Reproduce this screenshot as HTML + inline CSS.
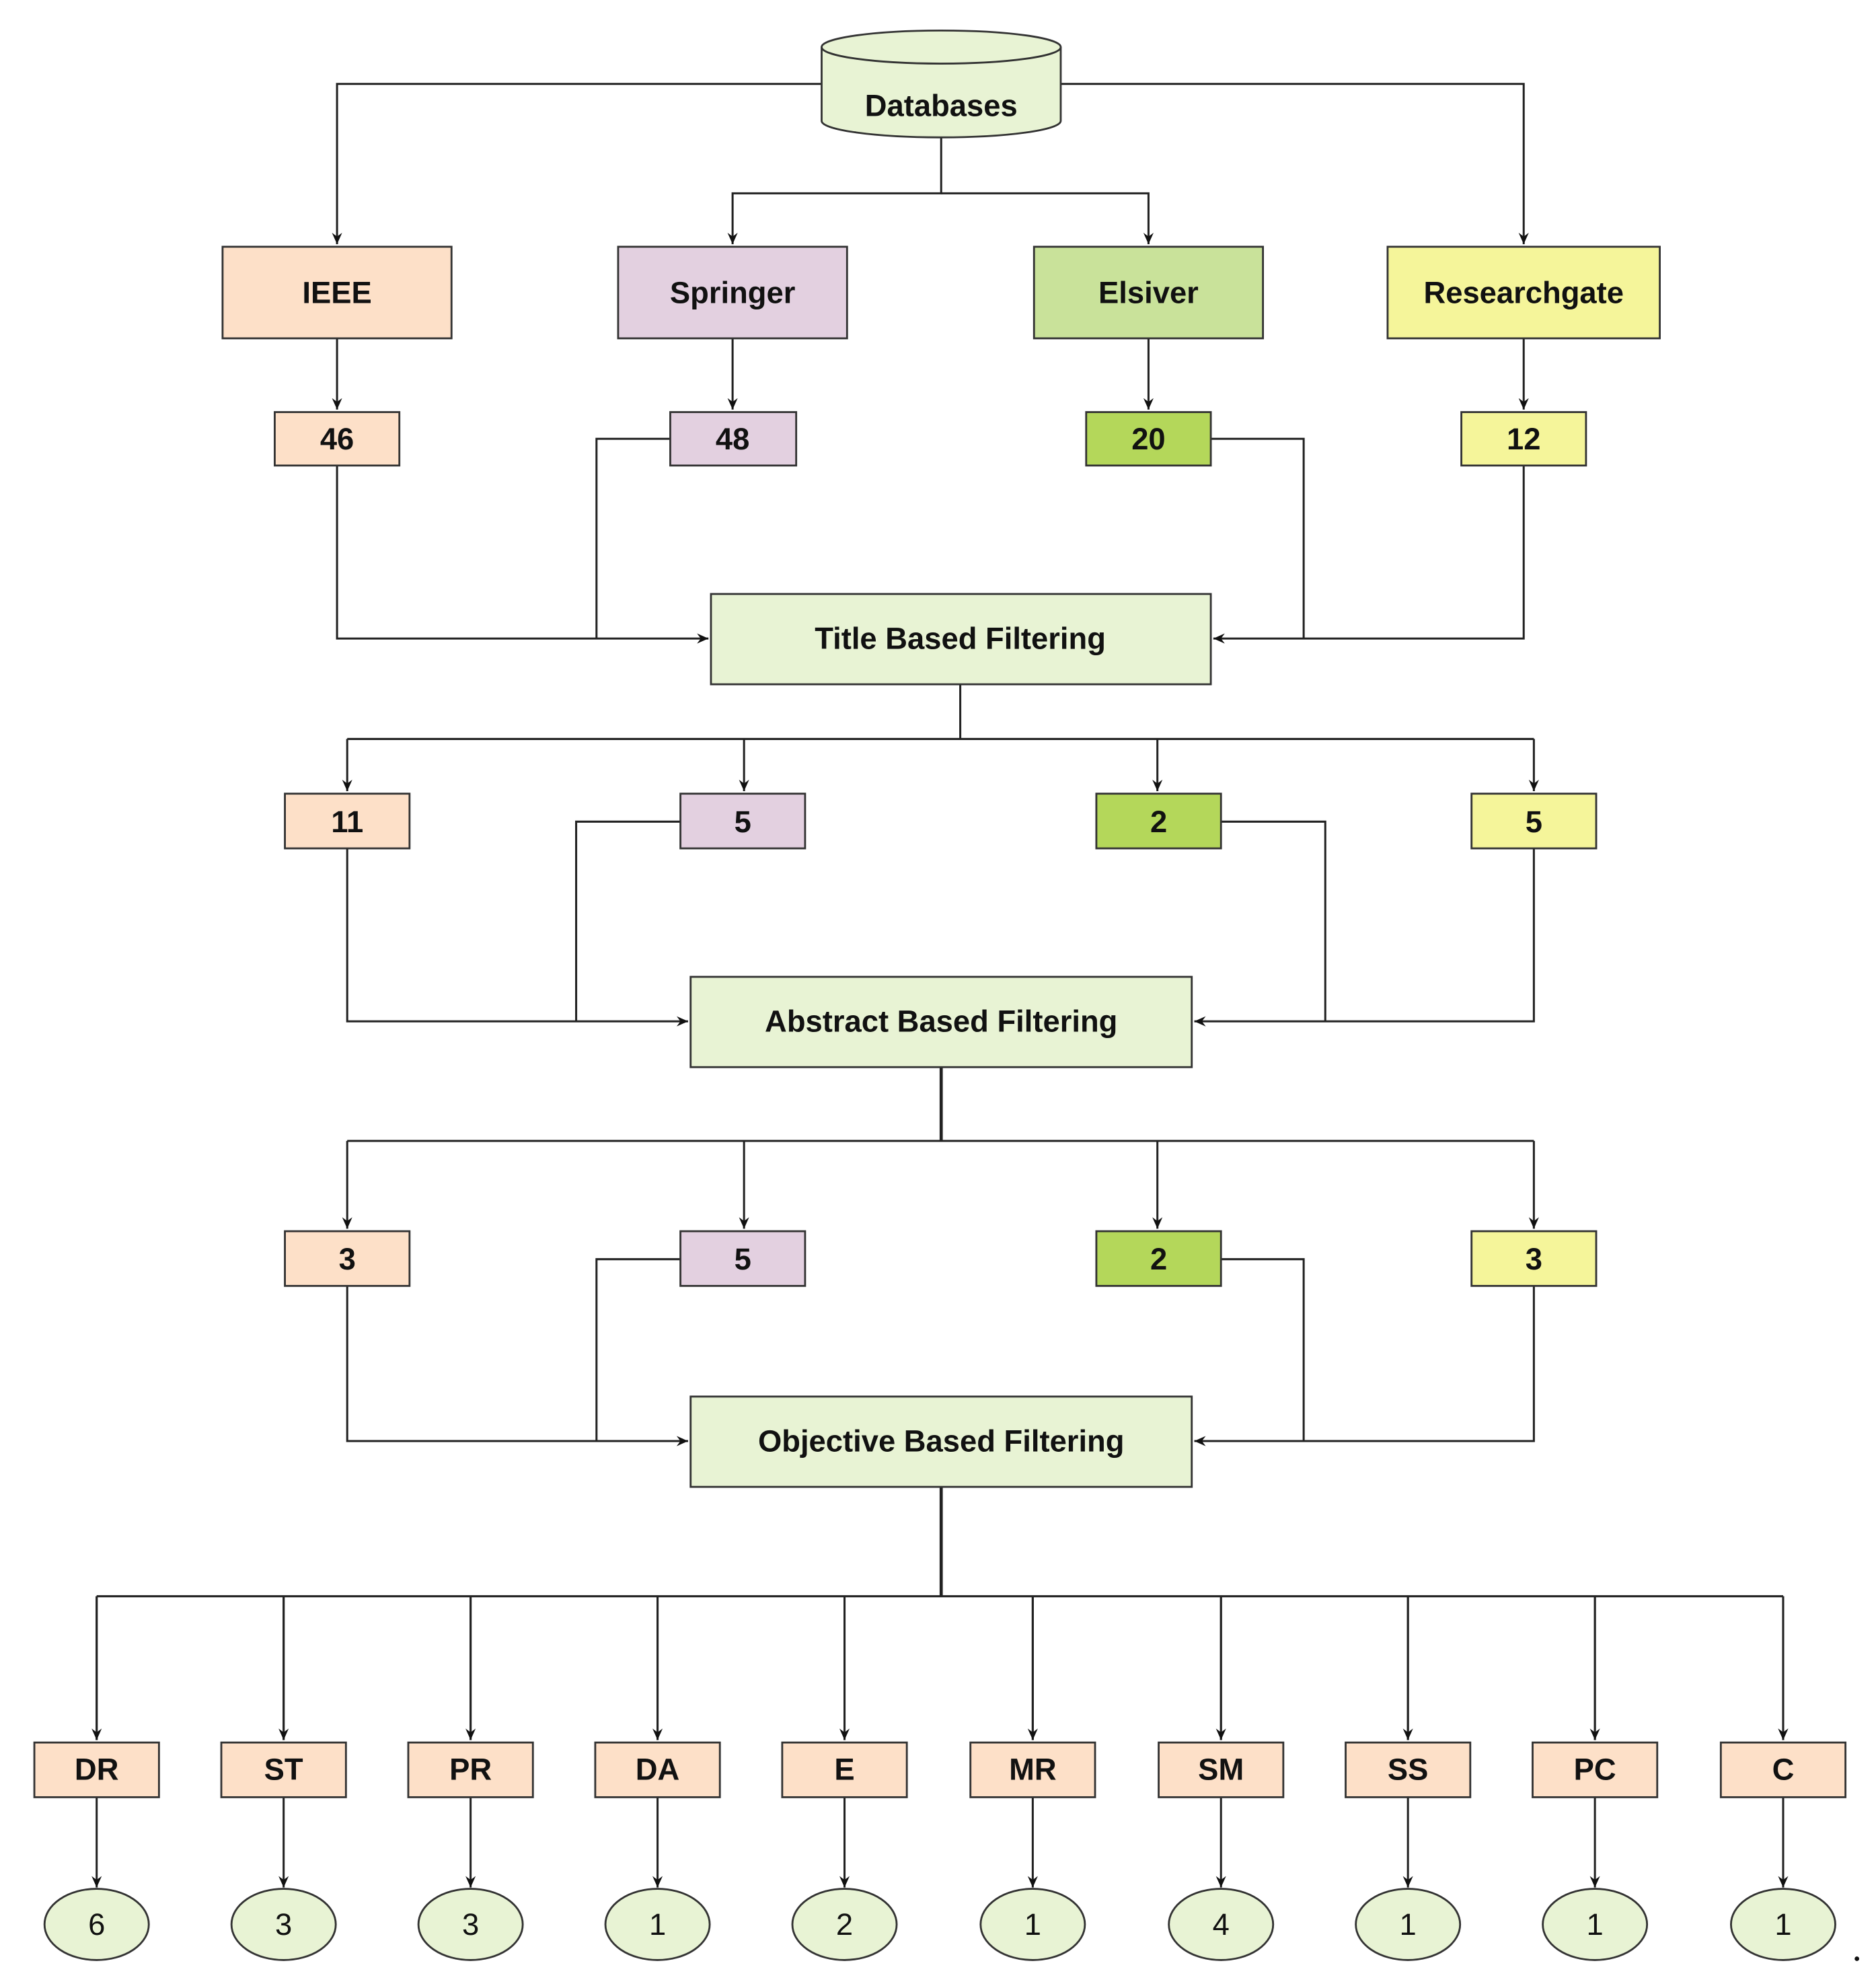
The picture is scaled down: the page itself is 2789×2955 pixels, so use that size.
<!DOCTYPE html>
<html><head><meta charset="utf-8"><style>html,body{margin:0;padding:0;background:#fff}svg{display:block}</style></head><body>
<svg width="2789" height="2955" viewBox="0 0 1475 1563" preserveAspectRatio="none" xmlns="http://www.w3.org/2000/svg">
<defs><marker id="a" markerWidth="10" markerHeight="10" refX="9" refY="5" orient="auto" markerUnits="userSpaceOnUse"><path d="M0,1 L9,5 L0,9 L3,5 Z" fill="#111"/></marker></defs>
<g fill="none" stroke="#222" stroke-width="1.6">
<path d="M646,66 H265 V192" marker-end="url(#a)"/>
<path d="M834,66 H1198 V192" marker-end="url(#a)"/>
<path d="M740,108 V152 H576 V192" marker-end="url(#a)"/>
<path d="M740,152 H903 V192" marker-end="url(#a)"/>
<path d="M265,266 V322" marker-end="url(#a)"/>
<path d="M576,266 V322" marker-end="url(#a)"/>
<path d="M903,266 V322" marker-end="url(#a)"/>
<path d="M1198,266 V322" marker-end="url(#a)"/>
<path d="M265,366 V502 H557" marker-end="url(#a)"/>
<path d="M527,345 H469 V502"/>
<path d="M952,345 H1025 V502"/>
<path d="M1198,366 V502 H954" marker-end="url(#a)"/>
<path d="M755,538 V581"/>
<path d="M273,581 H1206"/>
<path d="M273,581 V622" marker-end="url(#a)"/><path d="M585,581 V622" marker-end="url(#a)"/><path d="M910,581 V622" marker-end="url(#a)"/><path d="M1206,581 V622" marker-end="url(#a)"/>
<path d="M273,667 V803 H541" marker-end="url(#a)"/>
<path d="M535,646 H453 V803"/>
<path d="M960,646 H1042 V803"/>
<path d="M1206,667 V803 H939" marker-end="url(#a)"/>
<path d="M740,839 V897" stroke-width="2.5"/>
<path d="M273,897 H1206"/>
<path d="M273,897 V966" marker-end="url(#a)"/><path d="M585,897 V966" marker-end="url(#a)"/><path d="M910,897 V966" marker-end="url(#a)"/><path d="M1206,897 V966" marker-end="url(#a)"/>
<path d="M273,1011 V1133 H541" marker-end="url(#a)"/>
<path d="M535,990 H469 V1133"/>
<path d="M960,990 H1025 V1133"/>
<path d="M1206,1011 V1133 H939" marker-end="url(#a)"/>
<path d="M740,1169 V1255" stroke-width="2.5"/>
<path d="M76,1255 H1402"/>
<path d="M76,1255V1368M223,1255V1368M370,1255V1368M517,1255V1368M664,1255V1368M812,1255V1368M960,1255V1368M1107,1255V1368M1254,1255V1368M1402,1255V1368" marker-end="url(#a)"/>
</g>
<g fill="none" stroke="#222" stroke-width="1.6" marker-end="url(#a)">
<path d="M76,1255V1368"/><path d="M223,1255V1368"/><path d="M370,1255V1368"/><path d="M517,1255V1368"/><path d="M664,1255V1368"/><path d="M812,1255V1368"/><path d="M960,1255V1368"/><path d="M1107,1255V1368"/><path d="M1254,1255V1368"/><path d="M1402,1255V1368"/>
<path d="M76,1413V1484"/><path d="M223,1413V1484"/><path d="M370,1413V1484"/><path d="M517,1413V1484"/><path d="M664,1413V1484"/><path d="M812,1413V1484"/><path d="M960,1413V1484"/><path d="M1107,1413V1484"/><path d="M1254,1413V1484"/><path d="M1402,1413V1484"/>
</g>
<g stroke="#333" stroke-width="1.5">
<path d="M646,37 V95 A94,13 0 0 0 834,95 V37" fill="#e8f3d4"/>
<ellipse cx="740" cy="37" rx="94" ry="13" fill="#e8f3d4"/>
<rect x="175" y="194" width="180" height="72" fill="#fde0c8"/>
<rect x="486" y="194" width="180" height="72" fill="#e3d0e0"/>
<rect x="813" y="194" width="180" height="72" fill="#c9e29a"/>
<rect x="1091" y="194" width="214" height="72" fill="#f5f59a"/>
<rect x="216" y="324" width="98" height="42" fill="#fde0c8"/>
<rect x="527" y="324" width="99" height="42" fill="#e3d0e0"/>
<rect x="854" y="324" width="98" height="42" fill="#b4d75a"/>
<rect x="1149" y="324" width="98" height="42" fill="#f5f59a"/>
<rect x="559" y="467" width="393" height="71" fill="#e8f3d4"/>
<rect x="224" y="624" width="98" height="43" fill="#fde0c8"/>
<rect x="535" y="624" width="98" height="43" fill="#e3d0e0"/>
<rect x="862" y="624" width="98" height="43" fill="#b4d75a"/>
<rect x="1157" y="624" width="98" height="43" fill="#f5f59a"/>
<rect x="543" y="768" width="394" height="71" fill="#e8f3d4"/>
<rect x="224" y="968" width="98" height="43" fill="#fde0c8"/>
<rect x="535" y="968" width="98" height="43" fill="#e3d0e0"/>
<rect x="862" y="968" width="98" height="43" fill="#b4d75a"/>
<rect x="1157" y="968" width="98" height="43" fill="#f5f59a"/>
<rect x="543" y="1098" width="394" height="71" fill="#e8f3d4"/>
</g>
<g stroke="#333" stroke-width="1.5" fill="#fde0c8">
<rect x="27" y="1370" width="98" height="43"/><rect x="174" y="1370" width="98" height="43"/><rect x="321" y="1370" width="98" height="43"/><rect x="468" y="1370" width="98" height="43"/><rect x="615" y="1370" width="98" height="43"/><rect x="763" y="1370" width="98" height="43"/><rect x="911" y="1370" width="98" height="43"/><rect x="1058" y="1370" width="98" height="43"/><rect x="1205" y="1370" width="98" height="43"/><rect x="1353" y="1370" width="98" height="43"/>
</g>
<g stroke="#333" stroke-width="1.5" fill="#e8f3d4">
<ellipse cx="76" cy="1513" rx="41" ry="28"/><ellipse cx="223" cy="1513" rx="41" ry="28"/><ellipse cx="370" cy="1513" rx="41" ry="28"/><ellipse cx="517" cy="1513" rx="41" ry="28"/><ellipse cx="664" cy="1513" rx="41" ry="28"/><ellipse cx="812" cy="1513" rx="41" ry="28"/><ellipse cx="960" cy="1513" rx="41" ry="28"/><ellipse cx="1107" cy="1513" rx="41" ry="28"/><ellipse cx="1254" cy="1513" rx="41" ry="28"/><ellipse cx="1402" cy="1513" rx="41" ry="28"/>
</g>
<circle cx="1460" cy="1540" r="1.8" fill="#111"/>
<g font-family="Liberation Sans, Arial, sans-serif" font-weight="bold" font-size="24" fill="#111" text-anchor="middle" dominant-baseline="central">
<text x="740" y="83">Databases</text>
<text x="265" y="230">IEEE</text><text x="576" y="230">Springer</text><text x="903" y="230">Elsiver</text><text x="1198" y="230">Researchgate</text>
<text x="265" y="345">46</text><text x="576" y="345">48</text><text x="903" y="345">20</text><text x="1198" y="345">12</text>
<text x="755" y="502">Title Based Filtering</text>
<text x="273" y="646">11</text><text x="584" y="646">5</text><text x="911" y="646">2</text><text x="1206" y="646">5</text>
<text x="740" y="803">Abstract Based Filtering</text>
<text x="273" y="990">3</text><text x="584" y="990">5</text><text x="911" y="990">2</text><text x="1206" y="990">3</text>
<text x="740" y="1133">Objective Based Filtering</text>
<text x="76" y="1391">DR</text><text x="223" y="1391">ST</text><text x="370" y="1391">PR</text><text x="517" y="1391">DA</text><text x="664" y="1391">E</text><text x="812" y="1391">MR</text><text x="960" y="1391">SM</text><text x="1107" y="1391">SS</text><text x="1254" y="1391">PC</text><text x="1402" y="1391">C</text>
</g>
<g font-family="Liberation Sans, Arial, sans-serif" font-size="24" fill="#111" text-anchor="middle" dominant-baseline="central">
<text x="76" y="1513">6</text><text x="223" y="1513">3</text><text x="370" y="1513">3</text><text x="517" y="1513">1</text><text x="664" y="1513">2</text><text x="812" y="1513">1</text><text x="960" y="1513">4</text><text x="1107" y="1513">1</text><text x="1254" y="1513">1</text><text x="1402" y="1513">1</text>
</g>
</svg>
</body></html>
